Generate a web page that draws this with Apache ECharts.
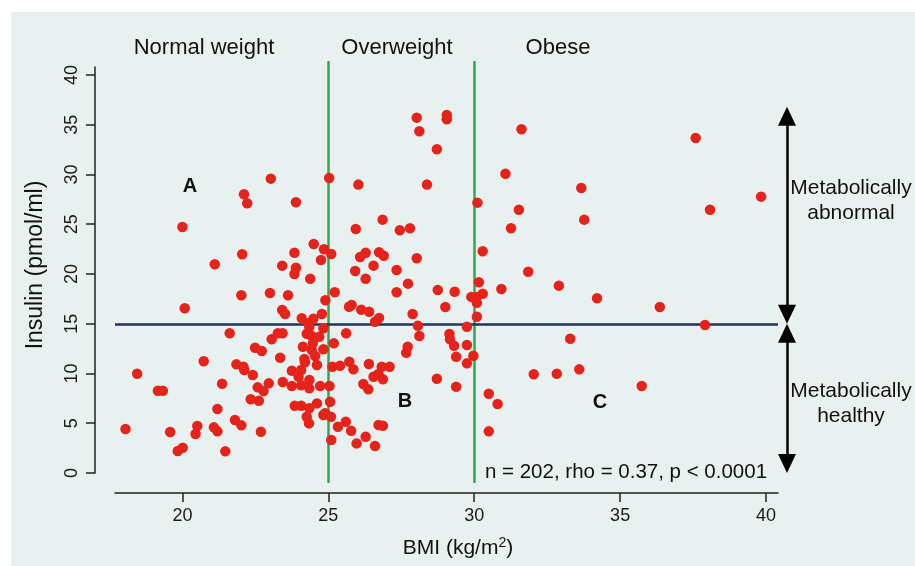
<!DOCTYPE html>
<html><head><meta charset="utf-8">
<script src="https://cdn.jsdelivr.net/npm/echarts@6/dist/echarts.min.js"></script>
<style>html,body{margin:0;padding:0;background:#fff}#c{width:915px;height:566px}</style>
</head><body><div id="c"></div>
<script>
const bmi = [
31.62,37.59,31.07,33.67,30.11,39.83,31.53,38.08,33.77,31.26,
30.29,31.85,30.16,30.93,32.9,30.29,29.9,30.09,30.09,34.21,
36.36,30.09,37.91,33.29,29.97,32.04,32.83,33.6,35.74,30.5,
30.8,30.5,28.03,29.06,29.06,28.12,28.72,25.03,26.03,28.38,
26.86,25.94,27.45,27.8,25.1,26.28,26.09,26.74,26.9,28.03,
26.55,25.92,27.34,26.28,27.73,25.22,27.34,28.75,29.33,25.71,
25.8,26.13,26.4,27.89,29.01,26.74,26.6,23.03,22.11,22.22,
20.0,23.89,24.5,24.85,23.84,24.75,23.89,23.84,23.42,24.38,
22.05,21.11,22.02,23.0,23.62,20.08,24.9,23.42,23.52,24.09,
24.49,24.78,24.32,24.35,24.83,23.27,23.43,24.26,24.42,24.69,
21.62,23.06,25.19,22.49,22.72,24.13,24.43,24.47,24.83,23.35,
24.18,24.2,24.55,24.61,20.73,21.85,22.09,22.12,18.45,22.41,
23.75,24.07,23.98,25.14,19.16,19.33,21.36,22.58,22.78,22.96,
23.44,23.75,24.07,24.35,24.35,24.72,25.04,22.34,22.62,23.85,
24.07,24.61,25.06,21.2,24.35,24.26,24.83,24.89,25.09,24.34,
21.8,22.02,18.05,19.58,20.51,20.45,21.08,21.2,22.69,19.84,
20.01,21.47,25.1,25.4,25.33,25.6,25.61,25.72,25.78,25.86,
25.97,26.2,26.37,26.28,26.39,26.6,26.55,26.72,26.87,26.83,
27.1,26.72,26.87,27.67,27.72,28.07,28.12,28.72,29.15,29.17,
29.31,29.38,29.38,29.75,29.75,29.75];
const insulin = [
34.54,33.67,30.08,28.64,27.17,27.77,26.46,26.46,25.46,24.59,
22.28,20.23,19.17,18.49,18.83,18.02,17.7,17.7,17.1,17.56,
16.68,15.71,14.87,13.5,11.79,9.92,9.98,10.42,8.74,7.97,
6.93,4.19,35.71,35.98,35.55,34.34,32.53,29.65,28.98,28.98,
25.46,24.52,24.39,24.59,22.01,22.14,21.71,22.18,21.84,21.58,
20.84,20.3,20.4,19.53,19.03,18.16,18.16,18.39,18.22,16.7,
16.88,16.41,16.21,15.98,16.68,15.58,15.21,29.58,28.01,27.1,
24.72,27.2,23.02,22.48,22.14,21.41,20.63,20.0,20.84,19.53,
21.98,20.97,17.86,18.09,17.86,16.55,17.36,16.38,15.98,15.55,
15.51,15.98,15.05,14.7,14.54,14.05,14.05,14.0,13.8,13.7,
14.04,13.44,13.03,12.59,12.26,12.69,12.36,13.03,12.43,11.59,
11.46,11.13,11.76,10.85,11.23,10.92,10.68,10.35,9.98,9.85,
10.28,10.35,9.68,10.68,8.27,8.27,8.97,8.61,8.24,9.01,
9.15,8.74,8.81,9.35,8.51,8.74,8.74,7.41,7.27,6.76,
6.76,7.0,7.17,6.43,6.5,5.66,5.83,6.0,5.66,4.99,
5.33,4.79,4.42,4.12,4.72,3.92,4.59,4.19,4.15,2.21,
2.54,2.18,3.32,10.78,4.65,5.16,14.04,11.19,4.25,10.42,
2.98,8.94,8.41,3.65,10.95,2.71,9.68,9.95,9.42,10.68,
10.68,4.82,4.75,12.09,12.69,14.8,13.77,9.48,13.97,13.44,
12.79,11.69,8.67,14.7,12.86,11.02];
const xTicks = [20, 25, 30, 35, 40];
const yTicks = [0, 5, 10, 15, 20, 25, 30, 35, 40];
const bmiCutoffs = [25, 30];
const insulinCutoff = 15;
const groupLabels = ['Normal weight', 'Overweight', 'Obese'];
const regionLabels = ['A', 'B', 'C'];
const sideLabels = ['Metabolically\nabnormal', 'Metabolically\nhealthy'];
const statText = 'n = 202, rho = 0.37, p < 0.0001';
const arrowSpans = [[15, 36.8], [0, 15]];

const FONT = '"Liberation Sans", Arial, sans-serif';
const points = bmi.map((x, i) => [x, insulin[i]]);
const HEAD = 0.95;

function txt(text, x, y, size, opts) {
  opts = opts || {};
  return {
    type: 'text', z: 100, silent: true, rotation: opts.rotation || 0, x: x, y: y,
    style: {
      text: text, x: 0, y: 0, fill: '#111',
      font: (opts.bold ? 'bold ' : '') + size + 'px ' + FONT,
      align: 'center', verticalAlign: 'middle',
      textAlign: 'center', textVerticalAlign: 'middle',
      lineHeight: opts.lineHeight || size * 1.2,
      rich: opts.rich
    }
  };
}

const axisColor = '#222';
const option = {
  backgroundColor: '#ffffff',
  animation: false,
  textStyle: { fontFamily: FONT },
  grid: [
    { left: 115, right: 137, top: 61, bottom: 83 },
    { left: 115, right: 137, top: 67, bottom: 93 },
    { left: 778, right: 119, top: 61, bottom: 83 }
  ],
  xAxis: [
    { gridIndex: 0, type: 'value', min: 17.69, max: 40.41, offset: 10,
      axisLine: { show: true, onZero: false, lineStyle: { color: axisColor, width: 1.5 } },
      axisTick: { show: true, customValues: xTicks, length: 9, lineStyle: { color: axisColor, width: 1.5 } },
      axisLabel: { customValues: xTicks, margin: 14, fontSize: 18, color: '#1a1a1a', fontFamily: FONT },
      splitLine: { show: false } },
    { gridIndex: 1, type: 'value', min: 17.69, max: 40.41, show: false },
    { gridIndex: 2, type: 'value', min: 0, max: 1, show: false }
  ],
  yAxis: [
    { gridIndex: 0, type: 'value', min: -1, max: 41.4, show: false },
    { gridIndex: 1, type: 'value', min: 0, max: 40.8, offset: 20,
      axisLine: { show: true, onZero: false, lineStyle: { color: axisColor, width: 1.5 } },
      axisTick: { show: true, customValues: yTicks, length: 9, lineStyle: { color: axisColor, width: 1.5 } },
      axisLabel: { customValues: yTicks, rotate: 90, margin: 14, fontSize: 18, color: '#1a1a1a', fontFamily: FONT },
      splitLine: { show: false } },
    { gridIndex: 2, type: 'value', min: -1, max: 41.4, show: false }
  ],
  series: [
    { type: 'scatter', xAxisIndex: 0, yAxisIndex: 0, data: points, z: 3,
      symbol: 'circle', symbolSize: 10.5, silent: true,
      itemStyle: { color: '#e5231b', opacity: 1 },
      markLine: { silent: true, z: 1, symbol: ['none', 'none'], label: { show: false },
        data: bmiCutoffs.map(v => ({ xAxis: v, lineStyle: { color: '#2eaa4c', width: 2.5, type: 'solid' } }))
          .concat([{ yAxis: insulinCutoff, lineStyle: { color: '#1f3560', width: 2.5, type: 'solid' } }]) } },
    { type: 'line', xAxisIndex: 2, yAxisIndex: 2, data: [], silent: true,
      markLine: { silent: true, symbol: ['triangle', 'triangle'], symbolSize: [18, 19], label: { show: false },
        lineStyle: { color: '#000', width: 2.5, type: 'solid' },
        data: arrowSpans.map(s => [{ coord: [0.5, s[0] + HEAD] }, { coord: [0.5, s[1] - HEAD] }]) } }
  ],
  graphic: [
    { type: 'rect', z: -10, silent: true, shape: { x: 11, y: 12, width: 904, height: 554 }, style: { fill: '#e9f1f0' } },
    txt(groupLabels[0], 204, 48, 22),
    txt(groupLabels[1], 397, 48, 22),
    txt(groupLabels[2], 558, 48, 22),
    txt(regionLabels[0], 190, 186, 20, { bold: true }),
    txt(regionLabels[1], 405, 401, 20, { bold: true }),
    txt(regionLabels[2], 600, 402, 20, { bold: true }),
    txt(sideLabels[0], 851, 201, 21, { lineHeight: 25 }),
    txt(sideLabels[1], 851, 404, 21, { lineHeight: 25 }),
    txt(statText, 626, 472, 20.5),
    txt('Insulin (pmol/ml)', 36, 265, 23, { rotation: Math.PI / 2 }),
    txt('{n|BMI (kg/m}{s|2}{n|)}', 458, 548, 21, { rich: {
      n: { fontSize: 21, fontFamily: FONT, fill: '#111', color: '#111' },
      s: { fontSize: 14, fontFamily: FONT, fill: '#111', color: '#111', padding: [0, 0, 9, 0] } } })
  ]
};
const chart = echarts.init(document.getElementById('c'));
chart.setOption(option);
</script></body></html>
